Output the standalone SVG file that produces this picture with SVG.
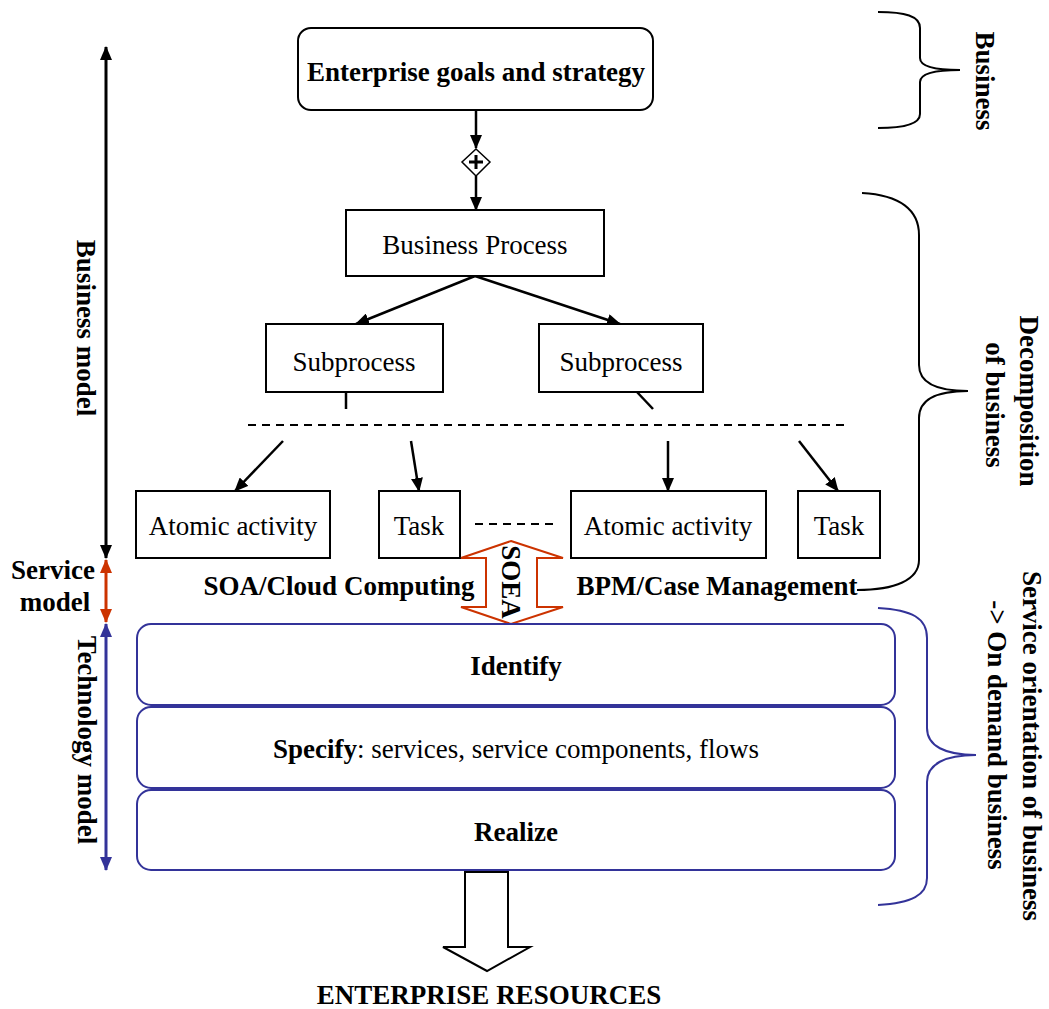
<svg xmlns="http://www.w3.org/2000/svg" width="1049" height="1009" viewBox="0 0 1049 1009">
<style>
.t{font-family:"Liberation Serif","Times New Roman",serif;font-size:27px;fill:#000}
.b{font-weight:bold}
.box{fill:#fff;stroke:#000;stroke-width:2}
.bbox{fill:#fff;stroke:#333399;stroke-width:2}
.ln{stroke:#000;stroke-width:2.5;fill:none}
.brace{fill:none;stroke:#000;stroke-width:2}
</style>
<defs>
<marker id="ah" viewBox="0 0 14 12" refX="13" refY="6" markerWidth="14" markerHeight="12" markerUnits="userSpaceOnUse" orient="auto-start-reverse"><path d="M0,0 L14,6 L0,12 Z" fill="#000"/></marker>
<marker id="ahr" viewBox="0 0 14 12" refX="13" refY="6" markerWidth="14" markerHeight="12" markerUnits="userSpaceOnUse" orient="auto-start-reverse"><path d="M0,0 L14,6 L0,12 Z" fill="#cc3300"/></marker>
<marker id="ahb" viewBox="0 0 14 12" refX="13" refY="6" markerWidth="14" markerHeight="12" markerUnits="userSpaceOnUse" orient="auto-start-reverse"><path d="M0,0 L14,6 L0,12 Z" fill="#333399"/></marker>
</defs>
<rect width="1049" height="1009" fill="#fff"/>

<g id="connectors">
<line class="ln" x1="476" y1="110" x2="476" y2="148" marker-end="url(#ah)"/>
<line class="ln" x1="476" y1="176" x2="476" y2="210" marker-end="url(#ah)"/>
<line class="ln" x1="475" y1="276" x2="356" y2="324" marker-end="url(#ah)"/>
<line class="ln" x1="475" y1="276" x2="620" y2="324" marker-end="url(#ah)"/>
<line class="ln" x1="346" y1="392" x2="346" y2="409"/>
<line class="ln" x1="637" y1="392" x2="653" y2="409"/>
<line x1="248" y1="425" x2="850" y2="425" stroke="#000" stroke-width="2" stroke-dasharray="8,6"/>
<line class="ln" x1="283" y1="441" x2="235" y2="491" marker-end="url(#ah)"/>
<line class="ln" x1="411" y1="441" x2="419" y2="491" marker-end="url(#ah)"/>
<line class="ln" x1="668" y1="441" x2="668" y2="491" marker-end="url(#ah)"/>
<line class="ln" x1="799" y1="441" x2="838" y2="491" marker-end="url(#ah)"/>
<line x1="475" y1="524" x2="553" y2="524" stroke="#000" stroke-width="2" stroke-dasharray="8,6"/>
</g>

<g id="gateway">
<path d="M476,149 L490,162 L476,176 L462,162 Z" fill="#fff" stroke="#000" stroke-width="1.5"/>
<path d="M476,155 V169 M469,162 H483" stroke="#000" stroke-width="3"/>
</g>

<g id="enterprise-goals">
<rect class="box" x="298" y="28" width="355" height="82" rx="13"/>
<text class="t b" x="476" y="81" text-anchor="middle">Enterprise goals and strategy</text>
</g>
<g id="business-process">
<rect class="box" x="346" y="210" width="258" height="66"/>
<text class="t" x="475" y="254" text-anchor="middle">Business Process</text>
</g>
<g id="subprocess1">
<rect class="box" x="266" y="324" width="177" height="68"/>
<text class="t" x="354" y="371" text-anchor="middle">Subprocess</text>
</g>
<g id="subprocess2">
<rect class="box" x="539" y="324" width="164" height="68"/>
<text class="t" x="621" y="371" text-anchor="middle">Subprocess</text>
</g>
<g id="atomic1">
<rect class="box" x="136" y="491" width="194" height="67"/>
<text class="t" x="233" y="535" text-anchor="middle">Atomic activity</text>
</g>
<g id="task1">
<rect class="box" x="379" y="491" width="81" height="67"/>
<text class="t" x="419" y="535" text-anchor="middle">Task</text>
</g>
<g id="atomic2">
<rect class="box" x="571" y="491" width="195" height="67"/>
<text class="t" x="668" y="535" text-anchor="middle">Atomic activity</text>
</g>
<g id="task2">
<rect class="box" x="798" y="491" width="82" height="67"/>
<text class="t" x="839" y="535" text-anchor="middle">Task</text>
</g>

<g id="soa-label"><text class="t b" x="339" y="595" text-anchor="middle">SOA/Cloud Computing</text></g>
<g id="bpm-label"><text class="t b" x="717" y="595" text-anchor="middle">BPM/Case Management</text></g>

<g id="soea">
<path d="M511,541 L563,558 L537,558 L537,607 L563,607 L511,624 L461,607 L486,607 L486,558 L461,558 Z" fill="#fff" stroke="#cc3300" stroke-width="2"/>
<text class="t b" transform="translate(502,582) rotate(90)" text-anchor="middle">SOEA</text>
</g>

<g id="identify">
<rect class="bbox" x="137" y="624" width="758" height="81" rx="14"/>
<text class="t b" x="516" y="675" text-anchor="middle">Identify</text>
</g>
<g id="specify">
<rect class="bbox" x="137" y="707" width="758" height="81" rx="14"/>
<text class="t" x="516" y="758" text-anchor="middle"><tspan class="b">Specify</tspan>: services, service components, flows</text>
</g>
<g id="realize">
<rect class="bbox" x="137" y="790" width="758" height="80" rx="14"/>
<text class="t b" x="516" y="841" text-anchor="middle">Realize</text>
</g>

<g id="resources">
<path d="M465,872 L508,872 L508,947 L530,947 L487,971 L443,947 L465,947 Z" fill="#fff" stroke="#000" stroke-width="2"/>
<text class="t b" x="489" y="1004" text-anchor="middle">ENTERPRISE RESOURCES</text>
</g>

<g id="left-axis">
<line x1="106" y1="47" x2="106" y2="558" stroke="#000" stroke-width="3" marker-start="url(#ah)" marker-end="url(#ah)"/>
<line x1="106" y1="560" x2="106" y2="622" stroke="#cc3300" stroke-width="3" marker-start="url(#ahr)" marker-end="url(#ahr)"/>
<line x1="106" y1="624" x2="106" y2="870" stroke="#333399" stroke-width="3" marker-start="url(#ahb)" marker-end="url(#ahb)"/>
<text class="t b" transform="translate(77,328) rotate(90)" text-anchor="middle">Business model</text>
<text class="t b" x="53" y="579" text-anchor="middle">Service</text>
<text class="t b" x="55" y="611" text-anchor="middle">model</text>
<text class="t b" transform="translate(78,740) rotate(90)" text-anchor="middle">Technology model</text>
</g>

<g id="business-brace">
<path class="brace" d="M878,12 C905,12 920,16 920,28 L920,58 C920,66 935,70 960,70 C935,70 920,74 920,82 L920,114 C920,124 905,128 878,128"/>
<text class="t b" transform="translate(976,81) rotate(90)" text-anchor="middle">Business</text>
</g>
<g id="decomposition-brace">
<path class="brace" d="M862,193 C900,195 919,210 919,235 L919,365 C919,382 935,391 968,391 C935,391 919,400 919,418 L919,560 C919,580 895,590 857,590"/>
<text class="t b" transform="translate(1020,401) rotate(90)" text-anchor="middle">Decomposition</text>
<text class="t b" transform="translate(986,405) rotate(90)" text-anchor="middle">of business</text>
</g>
<g id="service-brace">
<path d="M878,608 C912,610 927,618 927,638 L927,728 C927,746 945,755 976,755 C945,755 927,764 927,782 L927,878 C927,895 912,903 878,905" fill="none" stroke="#333399" stroke-width="2"/>
<text class="t b" transform="translate(1023,746) rotate(90)" text-anchor="middle">Service orientation of business</text>
<text class="t b" transform="translate(988,735) rotate(90)" text-anchor="middle">-&gt; On demand business</text>
</g>
</svg>
